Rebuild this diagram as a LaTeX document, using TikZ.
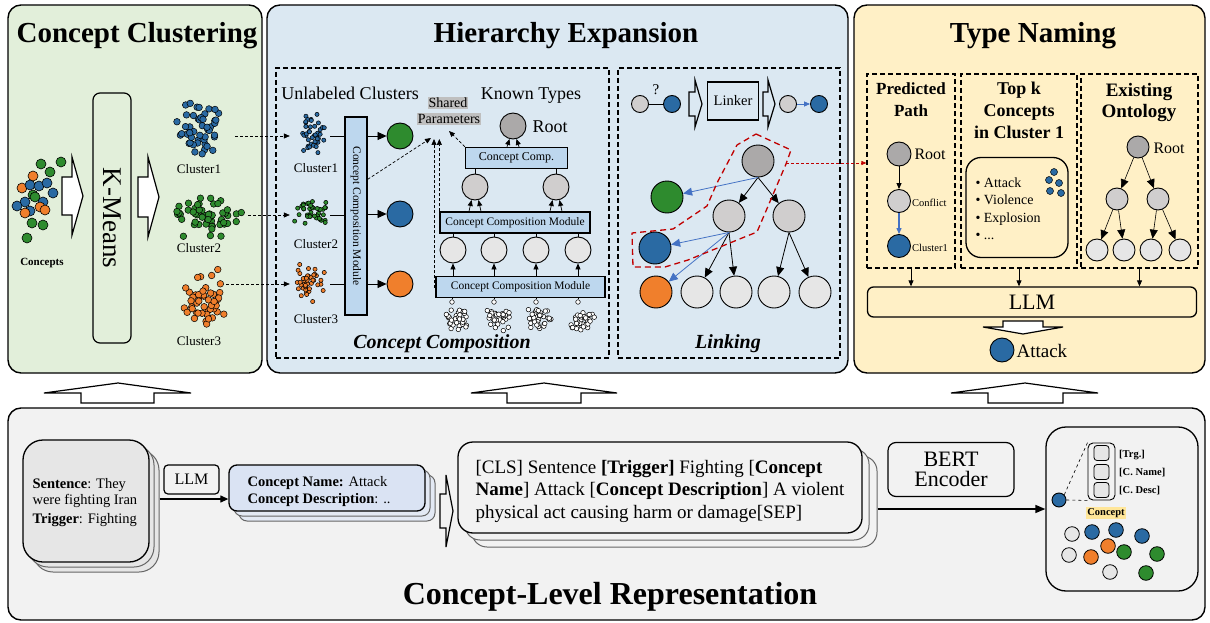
\documentclass[tikz,border=0pt]{standalone}
\usepackage{fontspec}
\setmainfont{Liberation Serif}
\usetikzlibrary{arrows.meta,calc}
\definecolor{pgreen}{HTML}{E2EFDA}
\definecolor{pblue}{HTML}{DBE8F2}
\definecolor{pyellow}{HTML}{FFF0C6}
\definecolor{pgray}{HTML}{F2F2F2}
\definecolor{modblue}{HTML}{BDD7EE}
\definecolor{cgreen}{HTML}{2E8B2E}
\definecolor{cblue}{HTML}{2A6AA3}
\definecolor{corange}{HTML}{F07F2C}
\definecolor{gdark}{HTML}{ABA9A9}
\definecolor{gmid}{HTML}{D0CECE}
\definecolor{glight}{HTML}{E6E6E6}
\definecolor{abl}{HTML}{4472C4}
\definecolor{dred}{HTML}{C00000}
\definecolor{hlgray}{HTML}{BFBFBF}
\definecolor{hlyellow}{HTML}{FFE699}
\definecolor{cnblue}{HTML}{DAE3F3}
\definecolor{cnback}{HTML}{E3E9F4}
\newcommand{\fsz}[1]{\fontsize{#1}{#1}\selectfont}
\newcommand{\myscatter}[8]{%
  \pgfmathsetseed{#8}%
  \foreach \k in {1,...,#5}{%
    \pgfmathsetmacro{\px}{#1+#3*(0.65*rand+0.35*rand)}%
    \pgfmathsetmacro{\py}{#2+#4*(0.65*rand+0.35*rand)}%
    \draw[fill=#6, line width=0.5pt] (\px,\py) circle[radius=#7];%
  }}
\begin{document}
\begin{tikzpicture}[x=1pt,y=-1pt,
  panel/.style={draw, line width=1.4pt, rounded corners=13pt},
  dbox/.style={draw, line width=1.1pt, dash pattern=on 5pt off 3pt, inner sep=0pt},
  nd/.style={circle, draw, line width=0.9pt, inner sep=0pt, minimum size=#1},
  nd/.default=26pt,
  mod/.style={draw, fill=modblue, line width=1.3pt, inner sep=0pt},
  arr/.style={-{Triangle[length=6pt,width=5pt]}, line width=0.7pt},
  barr/.style={-{Triangle[length=9pt,width=8pt]}, line width=0.8pt},
  darr/.style={dash pattern=on 3pt off 2pt, -{Triangle[length=6pt,width=5pt]}, line width=0.7pt},
  hblock/.style={draw, line width=1.2pt, line join=miter},
  ttl/.style={font=\fsz{29}\bfseries, anchor=base},
  lbl/.style={anchor=base, font=\fsz{13}},
  stk/.style={draw=black!60, line width=1pt},
  inv/.style={inner sep=0pt, minimum width=#1, minimum height=4pt},
]
\useasboundingbox (0,0) rectangle (1210,623);
\fill[white] (0,0) rectangle (1210,623);

% ---------- panels ----------
\draw[panel, fill=pgreen] (8,5) rectangle (262,373);
\draw[panel, fill=pblue] (267,5) rectangle (848,373);
\draw[panel, fill=pyellow] (854,5) rectangle (1205,373);
\draw[panel, fill=pgray] (8,408) rectangle (1205,620);

\node[ttl] (t1) at (137,43) {Concept Clustering};
\node[ttl] (t2) at (566,43) {Hierarchy Expansion};
\node[ttl] (t3) at (1033,43) {Type Naming};

% up arrows
\draw[hblock, fill=white] (81,403) -- (81,393) -- (44,393) -- (118,383) -- (191,393) -- (154,393) -- (154,403) -- cycle;
\draw[hblock, fill=white] (507,403) -- (507,393) -- (471,393) -- (544,383) -- (617,393) -- (581,393) -- (581,403) -- cycle;
\draw[hblock, fill=white] (988,403) -- (988,393) -- (951,393) -- (1025,383) -- (1098,393) -- (1063,393) -- (1063,403) -- cycle;

% ---------- Concept Clustering ----------
\foreach \x/\y/\c in {41/164/cgreen, 61/162/cgreen, 50/172/cgreen, 33/176/corange, 33/195/cgreen,
  22/188/corange, 30/185/cblue, 39/186/cblue, 47/183/cblue, 53/193/cblue, 35/197/cgreen,
  25/202/cblue, 17/206/cblue, 43/202/cblue, 40/207/corange, 45/210/corange, 30/211/cblue,
  25/213/corange, 32/223/cgreen, 43/225/cgreen, 27/238/cgreen}
  \draw[fill=\c, line width=0.6pt] (\x,\y) circle[radius=5pt];
\node[font=\fsz{11}\bfseries, anchor=base] (conc) at (42,265) {Concepts};

\draw[hblock, fill=white] (62,177) -- (72,177) -- (72,157) -- (83,196) -- (72,235) -- (72,215) -- (62,215) -- cycle;
\node[draw, line width=1.2pt, rounded corners=7pt, minimum width=38pt, minimum height=250pt, inner sep=0pt] (km) at (112,218) {};
\node[rotate=-90, font=\fsz{27}] at (km) {K-Means};
\draw[hblock, fill=white] (138,177) -- (148,177) -- (148,157) -- (159,197) -- (148,237) -- (148,217) -- (138,217) -- cycle;

\myscatter{199}{127}{26}{30}{48}{cblue}{3.3pt}{3}
\myscatter{205}{216}{40}{24}{54}{cgreen}{3.3pt}{7}
\myscatter{203}{297}{26}{32}{48}{corange}{3.3pt}{11}
\node[lbl] at (199,173) {Cluster1};
\node[lbl] at (199,252) {Cluster2};
\node[lbl] at (199,345) {Cluster3};
\node[inv=40pt] (c1) at (215,136) {};
\node[inv=40pt] (c2) at (228,215) {};
\node[inv=40pt] (c3) at (206,284) {};

% ---------- Hierarchy Expansion ----------
\node[dbox, minimum width=333pt, minimum height=290pt] (ccbox) at (442.5,213) {};
\node[dbox, minimum width=222pt, minimum height=290pt] (lkbox) at (729,213) {};

\node[font=\fsz{18}, anchor=base] at (350,100) {Unlabeled Clusters};
\node[font=\fsz{18}, anchor=base] at (531,100) {Known Types};
\node[fill=hlgray, font=\fsz{14}, inner sep=1pt] (sp1) at (448,103) {Shared};
\node[fill=hlgray, font=\fsz{14}, inner sep=1pt] (sp2) at (449,119) {Parameters};

\myscatter{312}{134}{17}{22}{42}{cblue}{2.1pt}{5}
\myscatter{313}{213}{20}{15}{40}{cgreen}{2.1pt}{9}
\myscatter{310}{283}{15}{20}{42}{corange}{2.1pt}{13}
\node[lbl] at (316,172) {Cluster1};
\node[lbl] at (316,248) {Cluster2};
\node[lbl] at (316,323) {Cluster3};
\node[inv=40pt] (sc1) at (310,136) {};
\node[inv=40pt] (sc2) at (310,215) {};
\node[inv=40pt] (sc3) at (310,284) {};

\draw[darr] (c1.east) -- (sc1.west);
\draw[darr] (c2.east) -- (sc2.west);
\draw[darr] (c3.east) -- (sc3.west);

\node[mod, minimum width=22pt, minimum height=198pt] (ccm) at (356,216) {};
\node[rotate=-90, font=\fsz{11.5}] at (ccm) {Concept Composition Module};
\draw[line width=0.7pt] (sc1.east) -- (sc1.east -| ccm.west);
\draw[line width=0.7pt] (sc2.east) -- (sc2.east -| ccm.west);
\draw[line width=0.7pt] (sc3.east) -- (sc3.east -| ccm.west);

\node[nd, fill=cgreen] (og) at (400,136) {};
\node[nd, fill=cblue] (ob) at (400,214) {};
\node[nd, fill=corange] (oo) at (400,284) {};
\draw[barr] (ccm.east |- og) -- (og.west);
\draw[barr] (ccm.east |- ob) -- (ob.west);
\draw[barr] (ccm.east |- oo) -- (oo.west);

% known types tree
\node[nd, fill=gdark] (rk) at (513,126) {};
\node[anchor=west, font=\fsz{18}] at (529,127) {Root};
\node[mod, minimum width=102pt, minimum height=21pt, font=\fsz{12}] (cc) at (516.5,158) {Concept Comp.};
\node[nd, fill=gmid] (gk1) at (475,187) {};
\node[nd, fill=gmid] (gk2) at (556,187) {};
\node[mod, minimum width=150pt, minimum height=21pt, font=\fsz{11.5}] (mcm) at (515,222.5) {Concept Composition Module};
\foreach \i/\x in {1/453,2/494,3/536,4/578}
  \node[nd, fill=glight] (lk\i) at (\x,250) {};
\node[mod, minimum width=169pt, minimum height=21pt, font=\fsz{11.5}] (bcm) at (520.5,287) {Concept Composition Module};

\foreach \i/\x [count=\s from 21] in {1/456,2/498,3/540,4/582}{
  \myscatter{\x}{319}{14}{12}{34}{white}{2.3pt}{\s}
  \node[circle, draw, fill=white, inner sep=0pt, minimum size=4.6pt, line width=0.5pt] (tp\i) at (\x-4,302) {};
  \draw[line width=0.5pt] (tp\i) -- (tp\i |- bcm.south);
  \draw[arr] (bcm.north -| lk\i) -- (lk\i.south);
  \draw[line width=0.5pt] (lk\i.north) -- (lk\i.north |- mcm.south);
}
\foreach \g in {gk1,gk2}{
  \draw[arr] ($(mcm.north -| \g)+(-6,0)$) -- (\g.-105);
  \draw[arr] ($(mcm.north -| \g)+(6,0)$) -- (\g.-75);
  \draw[line width=0.5pt] (\g.north) -- (\g.north |- cc.south);
}
\draw[arr] ($(cc.north -| rk)+(-6,0)$) -- (rk.-105);
\draw[arr] ($(cc.north -| rk)+(6,0)$) -- (rk.-75);

\coordinate (spa) at (431,138);
\coordinate (spb) at (434,139);
\coordinate (spc) at (441,139);
\coordinate (spd) at (449,131);
\draw[darr] ($(ccm.north east)+(0,63)$) -- (spa);
\draw[darr] (bcm.west) -| (spb);
\draw[darr] (mcm.north west) -- (mcm.north west |- spc);
\draw[darr] (cc.north west) -- (spd);

\node[font=\fsz{20}\bfseries\itshape, anchor=base] at (442,348) {Concept Composition};

% linking
\node[nd=17pt, fill=gmid] (lq1) at (640,104) {};
\node[nd=17pt, fill=cblue] (lq2) at (672,104) {};
\draw[line width=0.8pt] (lq1) -- (lq2);
\node[font=\fsz{15}] at (656,90) {?};
\draw[hblock] (689,92) -- (695,92) -- (695,80) -- (702,104) -- (695,127) -- (695,116) -- (689,116) -- cycle;
\node[draw, line width=1.2pt, minimum width=51pt, minimum height=38pt, inner sep=0pt, font=\fsz{14.5}] (lkr) at (733,101) {Linker};
\draw[hblock] (763,92) -- (768,92) -- (768,80) -- (775,104) -- (768,127) -- (768,116) -- (763,116) -- cycle;
\node[nd=17pt, fill=gmid] (la1) at (788,104) {};
\node[nd=17pt, fill=cblue] (la2) at (819,104) {};
\draw[arr, abl] (la1) -- (la2);

\node[nd=32pt, fill=gdark] (lr) at (758,161) {};
\node[nd=32pt, fill=gmid] (l21) at (729,216) {};
\node[nd=32pt, fill=gmid] (l22) at (789,216) {};
\node[nd=32pt, fill=cgreen] (lgr) at (667,197) {};
\node[nd=32pt, fill=cblue] (lbl) at (655,248) {};
\node[nd=32pt, fill=corange] (lor) at (656,292) {};
\foreach \i/\x in {1/697,2/736,3/774,4/815}
  \node[nd=32pt, fill=glight] (lb\i) at (\x,292) {};
\draw[barr] (lr.south) -- (l21);
\draw[barr] (lr.south) -- (l22);
\draw[barr] (l21.south) -- (lb1);
\draw[barr] (l21.south) -- (lb2);
\draw[barr] (l22.south) -- (lb3);
\draw[barr] (l22.south) -- (lb4);
\draw[barr, abl] (lr.south) -- (lgr);
\draw[barr, abl] (l21.south) -- (lbl);
\draw[barr, abl] (l21.south) -- (lor);

\draw[dred, line width=1.3pt, dash pattern=on 6pt off 4pt, line join=round]
  (756,134) -- (791,150) -- (786,164) -- (757,232) -- (747,236) -- (688,260) -- (665,267) -- (633,267)
  -- (632,233) -- (673,229) -- (707,206) -- (717,183) -- (737,145) -- cycle;
\coordinate (rv) at (786,163);

\node[font=\fsz{20}\bfseries\itshape, anchor=base] at (728,348) {Linking};

% ---------- Type Naming ----------
\node[dbox, minimum width=88pt, minimum height=194pt] (pp) at (911,171) {};
\node[dbox, minimum width=116pt, minimum height=194pt] (tk) at (1019,171) {};
\node[dbox, minimum width=117pt, minimum height=194pt] (eo) at (1139.5,171) {};
\draw[dred, dash pattern=on 3pt off 2pt, line width=0.7pt, -{Triangle[length=5pt,width=4pt]}] (rv) -- (rv -| pp.west);

\node[font=\fsz{17}\bfseries, anchor=base] at (911,95) {Predicted};
\node[font=\fsz{17}\bfseries, anchor=base] at (911,117) {Path};
\node[font=\fsz{18}\bfseries, anchor=base] at (1019,95) {Top k};
\node[font=\fsz{18}\bfseries, anchor=base] at (1019,117) {Concepts};
\node[font=\fsz{18}\bfseries, anchor=base] at (1019,139) {in Cluster 1};
\node[font=\fsz{19}\bfseries, anchor=base] at (1139,97) {Existing};
\node[font=\fsz{19}\bfseries, anchor=base] at (1139,118) {Ontology};

\node[nd=24pt, fill=gdark] (pr) at (899,154) {};
\node[anchor=west, font=\fsz{16}] at (911,154) {Root};
\node[nd=23pt, fill=gmid] (pc) at (899,201) {};
\node[anchor=west, font=\fsz{10.5}, inner sep=1pt] at (911,203) {Conflict};
\node[nd=23pt, fill=cblue] (pk) at (899,246) {};
\node[anchor=west, font=\fsz{10.5}, inner sep=1pt] at (911,248) {Cluster1};
\draw[arr, line width=1pt] (pr) -- (pc);
\draw[arr, abl, line width=1.2pt] (pc) -- (pk);

\node[draw, line width=1.3pt, rounded corners=15pt, minimum width=102pt, minimum height=100pt, inner sep=0pt] (tkl) at (1017,207.5) {};
\node[anchor=base west, font=\fsz{14}] at (972,187) {\textbullet\ Attack};
\node[anchor=base west, font=\fsz{14}] at (972,204.5) {\textbullet\ Violence};
\node[anchor=base west, font=\fsz{14}] at (972,222) {\textbullet\ Explosion};
\node[anchor=base west, font=\fsz{14}] at (972,239.5) {\textbullet\ ...};
\foreach \x/\y in {1054/172, 1049/180, 1059/183, 1050/191, 1061/193}
  \draw[fill=cblue, line width=0.5pt] (\x,\y) circle[radius=3.5pt];

\node[nd=22pt, fill=gdark] (er) at (1138,147) {};
\node[anchor=west, font=\fsz{16}] at (1150,148) {Root};
\node[nd=22pt, fill=gmid] (e21) at (1117,199) {};
\node[nd=22pt, fill=gmid] (e22) at (1158,199) {};
\foreach \i/\x in {1/1097,2/1124,3/1151,4/1180}
  \node[nd=22pt, fill=glight] (e3\i) at (\x,250) {};
\draw[barr, line width=0.6pt] (er) -- (e21);
\draw[barr, line width=0.6pt] (er) -- (e22);
\draw[barr, line width=0.6pt] (e21) -- (e31);
\draw[barr, line width=0.6pt] (e21) -- (e32);
\draw[barr, line width=0.6pt] (e22) -- (e33);
\draw[barr, line width=0.6pt] (e22) -- (e34);

\node[draw, line width=1.3pt, rounded corners=6pt, minimum width=329pt, minimum height=30pt, inner sep=0pt, font=\fsz{22}] (llm) at (1032,302) {LLM};
\draw[arr, line width=0.9pt] (pp.south) -- (pp.south |- llm.north);
\draw[arr, line width=0.9pt] (tk.south) -- (tk.south |- llm.north);
\draw[arr, line width=0.9pt] (eo.south) -- (eo.south |- llm.north);
\draw[hblock, fill=white] (1003,321) -- (1043,321) -- (1043,327) -- (1063,327) -- (1023,334) -- (983,327) -- (1003,327) -- cycle;
\node[nd=24pt, fill=cblue] (att) at (1002,350) {};
\node[anchor=west, font=\fsz{19}] at (1013,351) {Attack};

% ---------- Concept-Level Representation ----------
\node[stk, fill=glight, rounded corners=20pt, minimum width=126pt, minimum height=122pt] (sb2) at (96,511) {};
\node[stk, fill=glight, rounded corners=20pt, minimum width=126pt, minimum height=122pt] (sb1) at (91,506) {};
\node[draw, line width=1.3pt, fill=glight, rounded corners=20pt, minimum width=126pt, minimum height=122pt] (sf) at (86,501) {};
\node[anchor=base west, font=\fsz{14.5}] at (29,488) {\textbf{Sentence}: They};
\node[anchor=base west, font=\fsz{14.5}] at (29,504) {were fighting Iran};
\node[anchor=base west, font=\fsz{14.5}] at (29,523) {\textbf{Trigger}: Fighting};

\node[draw, line width=1.2pt, rounded corners=4pt, minimum width=55pt, minimum height=29pt, inner sep=0pt, font=\fsz{16}] (llm2) at (191.5,479.5) {LLM};

\node[stk, fill=cnback, rounded corners=8pt, minimum width=196pt, minimum height=46pt] (cb2) at (337,498) {};
\node[stk, fill=cnback, rounded corners=8pt, minimum width=196pt, minimum height=46pt] (cb1) at (332,493) {};
\node[draw, line width=1.3pt, fill=cnblue, rounded corners=8pt, minimum width=196pt, minimum height=46pt] (cn) at (327,488) {};
\node[anchor=base west, font=\fsz{14.5}] at (244,486) {\textbf{Concept Name:} Attack};
\node[anchor=base west, font=\fsz{14.5}] at (244,503) {\textbf{Concept Description}: ..};
\draw[-{Triangle[length=8pt,width=7pt]}, line width=1.2pt] (sb2.east |- 0,499) -- (cn.west |- 0,499);

\draw[hblock] (440,494) -- (446,494) -- (446,475) -- (453,511) -- (446,547) -- (446,528) -- (440,528) -- cycle;

\node[stk, fill=pgray, rounded corners=15pt, minimum width=405pt, minimum height=91pt] (bt2) at (674.5,501.5) {};
\node[stk, fill=pgray, rounded corners=15pt, minimum width=404pt, minimum height=91pt] (bt1) at (667,494.5) {};
\node[draw, line width=1.3pt, fill=pgray, rounded corners=15pt, minimum width=404pt, minimum height=91pt] (bt) at (660,487.5) {};
\node[anchor=base west, font=\fsz{19}] at (472,473) {[CLS] Sentence \textbf{[Trigger]} Fighting [\textbf{Concept}};
\node[anchor=base west, font=\fsz{19}] at (472,495.5) {\textbf{Name}] Attack [\textbf{Concept Description}] A violent};
\node[anchor=base west, font=\fsz{19}] at (472,518) {physical act causing harm or damage[SEP]};

\node[draw, line width=1.2pt, rounded corners=8pt, minimum width=126pt, minimum height=54pt, inner sep=0pt, font=\fsz{22}, align=center] (bert) at (951,469.5) {BERT\\[-2pt]Encoder};

\node[draw, line width=1.3pt, fill=pgray, rounded corners=20pt, minimum width=152pt, minimum height=164pt] (cs) at (1122,509) {};
\draw[-{Triangle[length=10pt,width=8pt]}, line width=1.5pt] (bt2.east |- cs.west) -- (cs.west);

\node[draw, line width=0.9pt, rounded corners=5pt, minimum width=27pt, minimum height=57pt, inner sep=0pt] (vec) at (1101.5,471.5) {};
\foreach \i/\y in {1/453,2/472,3/490}
  \node[draw, line width=0.8pt, fill=glight, rounded corners=3pt, minimum size=15pt, inner sep=0pt] (vq\i) at (1101.5,\y) {};
\node[anchor=base west, font=\fsz{10.5}\bfseries, inner sep=1pt] at (1118,457) {[Trg.]};
\node[anchor=base west, font=\fsz{10.5}\bfseries, inner sep=1pt] at (1118,475) {[C. Name]};
\node[anchor=base west, font=\fsz{10.5}\bfseries, inner sep=1pt] at (1118,493) {[C. Desc]};
\node[nd=14pt, fill=cblue] (vd) at (1059,500) {};
\draw[dashed, line width=0.6pt] (vd.north east) -- (vec.north west);
\draw[dashed, line width=0.6pt] (vd.east) -- (vec.south west);
\node[fill=hlyellow, font=\fsz{10.5}\bfseries, inner sep=1.5pt] (clab) at (1106,513) {Concept};
\foreach \x/\y/\c in {1072/534/glight, 1092/532/cblue, 1116/530/cblue, 1142/536/cblue, 1108/546/corange,
  1124/552/cgreen, 1157/554/cgreen, 1069/555/glight, 1091/557/corange, 1110/572/glight, 1146/573/cgreen}
  \draw[fill=\c, line width=0.8pt] (\x,\y) circle[radius=7.3pt];

\node[font=\fsz{32}\bfseries, anchor=base] (clr) at (610,604) {Concept-Level Representation};
\end{tikzpicture}
\end{document}
